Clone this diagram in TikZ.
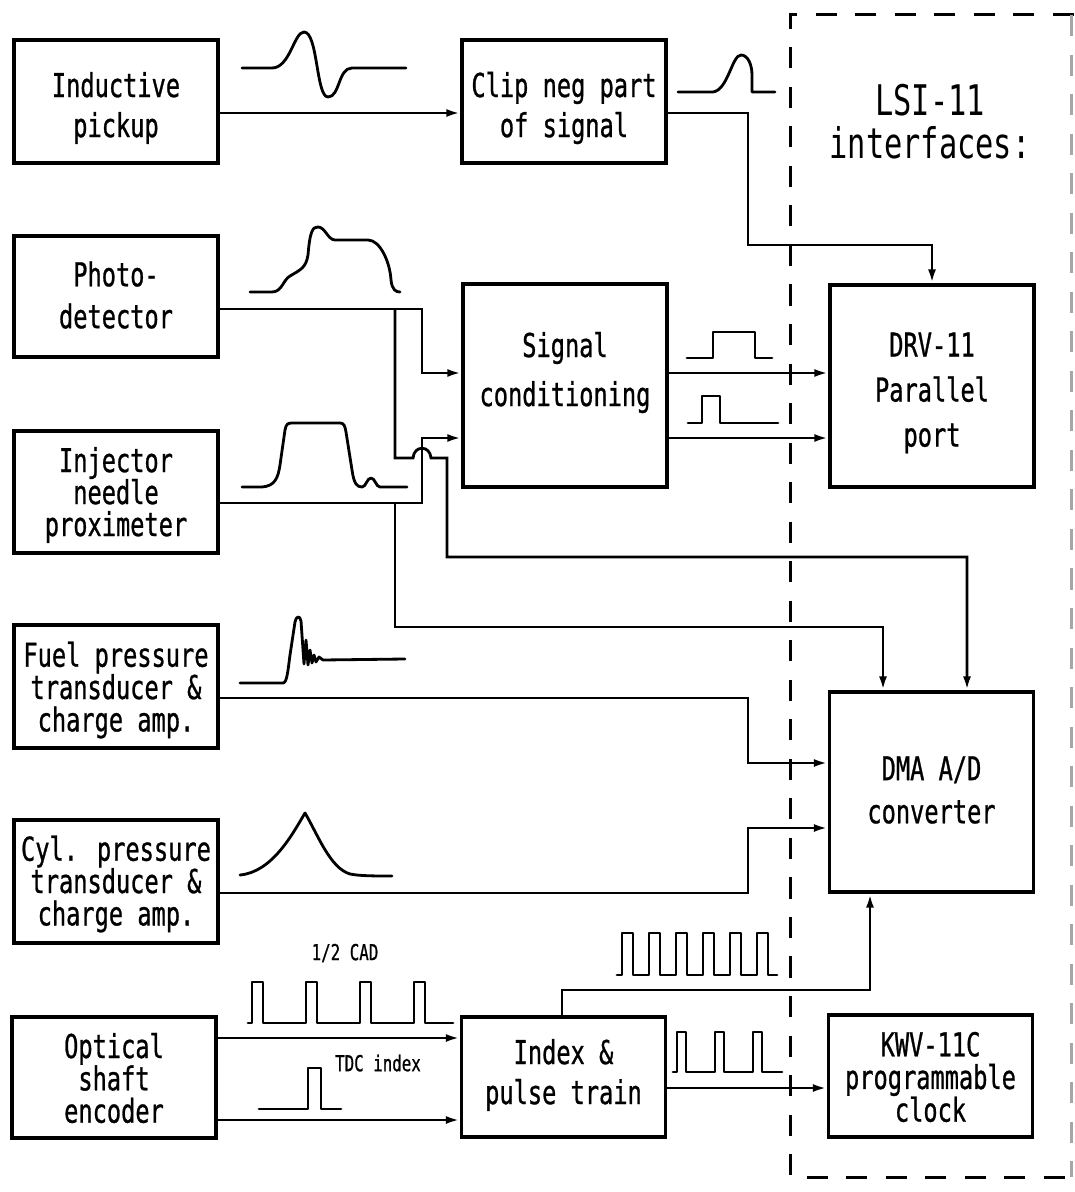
\documentclass[tikz,border=0pt]{standalone}
\usepackage{fontspec}
\usepackage{tikz}
\usetikzlibrary{arrows.meta}
\newfontfamily\plotfont{DejaVu Sans Mono}[FakeStretch=0.72, FakeBold=0.8]
\newfontfamily\thinfont{DejaVu Sans Mono}[FakeStretch=0.72]
\newcommand\bfnt[1]{\plotfont\fontsize{18.7}{#1}\selectfont}

\begin{document}
\begin{tikzpicture}[x=0.02cm, y=-0.02cm,
    blk/.style={draw, line width=1.8pt, minimum width=4.08cm, inner sep=0pt},
    txt/.style={align=center, inner sep=0pt},
    wire/.style={line width=1.6pt},
    arr/.style={wire, -{Latex[length=8pt,width=4.5pt]}},
    wave/.style={line width=1.6pt, line join=round, line cap=round},
    frame/.style={line width=1.7pt, dash pattern=on 12pt off 10.5pt},
    lbl/.style={font=\plotfont\fontsize{12.5}{13}\selectfont, inner sep=0pt}
  ]
    \useasboundingbox (0,0) rectangle (1074,1192);

    % LSI-11 side
    \draw[frame] (1074,15) -- (790,15) -- (790,1177) -- (1074,1177);
    \draw[frame, black!35] (1071,15) -- (1071,1177);
    \node[txt, font=\thinfont\fontsize{24}{24.5}\selectfont] (lsi) at (930,121.5)
      {LSI-11\\interfaces:};

    % sensors
    \node[blk, minimum height=2.46cm] (ind) at (116,101.5) {};
    \node[blk, minimum height=2.42cm] (photo) at (116,296.5) {};
    \node[blk, minimum height=2.44cm] (inj) at (116,492) {};
    \node[blk, minimum height=2.46cm] (fuel) at (116,686.5) {};
    \node[blk, minimum height=2.46cm] (cyl) at (116,881.5) {};
    \node[blk, minimum height=2.42cm] (opt) at (114,1077.5) {};
    \node[txt, font=\bfnt{22.8}] (indt) at (116,108) {Inductive\\pickup};
    \node[txt, font=\bfnt{23.9}] (photot) at (116,295) {Photo-\\detector};
    \node[txt, font=\bfnt{18.2}] (injt) at (116,495) {Injector\\needle\\proximeter};
    \node[txt, font=\bfnt{18.4}] (fuelt) at (116,690) {Fuel pressure\\transducer \&\\charge amp.};
    \node[txt, font=\bfnt{18.4}] (cylt) at (116,884) {Cyl. pressure\\transducer \&\\charge amp.};
    \node[txt, font=\bfnt{18.4}] (optt) at (114,1078) {Optical\\shaft\\encoder};

    % processing
    \node[blk, minimum height=2.46cm] (clip) at (564,101.5) {};
    \node[blk, minimum height=4.06cm] (sig) at (565,385.5) {};
    \node[blk, minimum height=2.40cm] (idx) at (563.5,1077) {};
    \node[txt, font=\bfnt{22.8}] (clipt) at (564,108) {Clip neg part\\of signal};
    \node[txt, font=\bfnt{27.9}] (sigt) at (565,372.5) {Signal\\conditioning};
    \node[txt, font=\bfnt{22.8}] (idxt) at (563.5,1075) {Index \&\\pulse train};

    % interfaces
    \node[blk, minimum height=4.04cm] (drv) at (932,386) {};
    \node[blk, minimum height=4.00cm] (dma) at (931.5,792) {};
    \node[blk, minimum height=2.44cm] (kwv) at (930.5,1076) {};
    \node[txt, font=\bfnt{25.6}] (drvt) at (932,393) {DRV-11\\Parallel\\port};
    \node[txt, font=\bfnt{24.5}] (dmat) at (931.5,790) {DMA A/D\\converter};
    \node[txt, font=\bfnt{18.6}] (kwvt) at (930.5,1077) {KWV-11C\\programmable\\clock};

    \node[lbl] (cad) at (345,953) {1/2 CAD};
    \node[lbl] (tdc) at (378,1063) {TDC index};

    % taps on the photo and injector lines
    \coordinate (tapP) at (395,309);
    \coordinate (tapI) at (395,503);

    % connections
    \draw[arr] (ind.east |- 0,113) -- (clip.west |- 0,113);
    \draw[arr] (clip.east |- 0,113) -| (748,245) -| (drv.north);
    \draw[arr] (photo.east |- tapP) -| (422,373) -- (sig.west |- 0,373);
    \draw[arr] (inj.east |- tapI) -| (422,438) -- (sig.west |- 0,438);
    \draw[arr] (tapP) -- (395,458) -- (413,458) .. controls (414,445) and (430,445) .. (431,458)
      -- (447,458) |- (967,557) -- (dma.north -| 967,0);
    \draw[arr] (tapI) |- (883,627) -- (dma.north -| 883,0);
    \draw[arr] (sig.east |- 0,373) -- (drv.west |- 0,373);
    \draw[arr] (sig.east |- 0,438) -- (drv.west |- 0,438);
    \draw[arr] (fuel.east |- 0,698) -| (748,763) -- (dma.west |- 0,763);
    \draw[arr] (cyl.east |- 0,893) -| (748,828) -- (dma.west |- 0,828);
    \draw[arr] (opt.east |- 0,1038) -- (idx.west |- 0,1038);
    \draw[arr] (opt.east |- 0,1120) -- (idx.west |- 0,1120);
    \draw[arr] (idx.north -| 562,0) |- (870,990) -- (dma.south -| 870,0);
    \draw[arr] (idx.east |- 0,1088) -- (kwv.west |- 0,1088);

    % waveforms
    \draw[wave] (242,68) -- (272,68) .. controls (290,68) and (294,32) .. (304,32)
      .. controls (318,32) and (316,97) .. (328,97) .. controls (340,97) and (338,68) .. (352,68) -- (406,68);
    \draw[wave] (678,92) -- (713,92) .. controls (728,90) and (732,55) .. (741,55)
      .. controls (748,55) and (752,65) .. (752,75) -- (752,92) -- (775,92);
    \draw[wave] (250,292) -- (272,292) .. controls (282,292) and (283,280) .. (290,276)
      .. controls (300,270) and (306,268) .. (308,255) .. controls (310,230) and (313,227) .. (318,227)
      .. controls (325,227) and (328,240) .. (335,240) -- (368,240)
      .. controls (380,240) and (390,262) .. (391,280) .. controls (392,290) and (396,292) .. (400,292);
    \draw[wave] (242,487) -- (262,487) .. controls (275,486) and (278,478) .. (280,465) -- (285,430)
      .. controls (286,424) and (288,423) .. (292,423) -- (340,423) .. controls (344,423) and (345,426) .. (346,432)
      -- (352,470) .. controls (354,484) and (357,487) .. (362,487) .. controls (366,487) and (367,478) .. (371,478)
      .. controls (375,478) and (376,487) .. (380,487) -- (407,487);
    \draw[wave] (240,683) -- (283,683) .. controls (287,683) and (288,670) .. (290,655) -- (295,622)
      .. controls (296,616) and (300,615) .. (301,621) -- (304,664) -- (306,640) -- (308,665) -- (310,650)
      -- (312,663) -- (314,655) -- (316,662) -- (319,657) -- (323,660) -- (405,659);
    \draw[wave] (240,875) .. controls (272,872) and (292,835) .. (305,813)
      .. controls (318,835) and (330,868) .. (350,874) .. controls (360,876) and (375,876) .. (392,876);
    \draw[wave] (687,358) -- (713,358) -- (713,332) -- (755,332) -- (755,358) -- (772,358);
    \draw[wave] (688,423) -- (702,423) -- (702,396) -- (720,396) -- (720,423) -- (778,423);
    \draw[wave] (617,975) \foreach \k in {0,...,5} {
        -- ({622+27*\k},975) -- ({622+27*\k},933) -- ({633+27*\k},933) -- ({633+27*\k},975) } -- (777,975);
    \draw[wave] (673,1072) \foreach \k in {0,1,2} {
        -- ({677+38*\k},1072) -- ({677+38*\k},1032) -- ({686+38*\k},1032) -- ({686+38*\k},1072) } -- (782,1072);
    \draw[wave] (248,1023) \foreach \k in {0,...,3} {
        -- ({252+54*\k},1023) -- ({252+54*\k},982) -- ({263+54*\k},982) -- ({263+54*\k},1023) } -- (453,1023);
    \draw[wave] (259,1109) -- (308,1109) -- (308,1068) -- (321,1068) -- (321,1109) -- (341,1109);
\end{tikzpicture}
\end{document}
